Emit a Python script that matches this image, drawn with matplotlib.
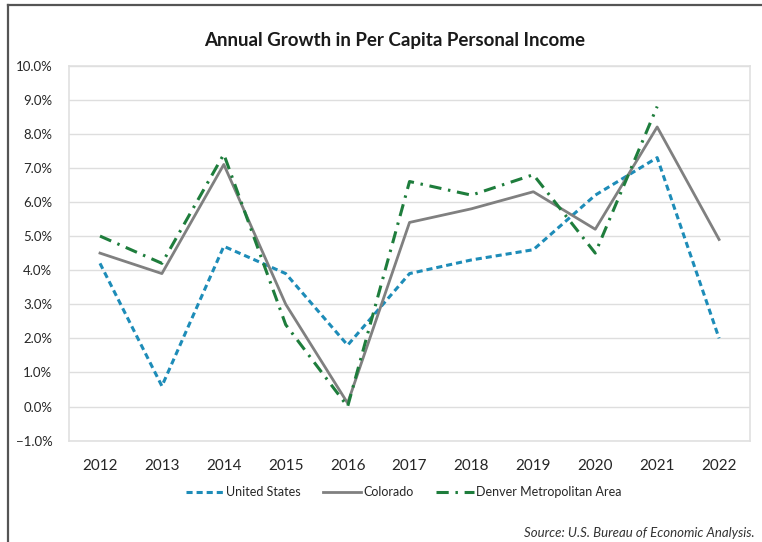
import numpy as np
import matplotlib
matplotlib.use("Agg")
from matplotlib import pyplot as plt
from matplotlib.lines import Line2D
from matplotlib.ticker import PercentFormatter

plt.rcParams['font.family'] = ['Lato', 'DejaVu Sans']

# data (annual % growth)
years = [2012, 2013, 2014, 2015, 2016, 2017, 2018, 2019, 2020, 2021, 2022]
us = [4.2, 0.6, 4.7, 3.9, 1.8, 3.9, 4.3, 4.6, 6.2, 7.3, 2.0]
colorado = [4.5, 3.9, 7.1, 3.0, 0.1, 5.4, 5.8, 6.3, 5.2, 8.2, 4.9]
denver = [5.0, 4.2, 7.4, 2.4, 0.0, 6.6, 6.2, 6.8, 4.5, 8.8, np.nan]

fig = plt.figure(figsize=(7.62, 5.42), dpi=100)
ax = fig.add_axes([0.0906, 0.187, 0.8937, 0.692])

x = np.arange(len(years))
ax.plot(x, us, color="#1d8cb8", lw=2.2, ls=(0, (2.0, 1.3)), label="United States", zorder=3)
ax.plot(x, colorado, color="#808080", lw=2.0, label="Colorado", zorder=3)
ax.plot(x, denver, color="#1e7d3c", lw=2.2, ls=(0, (4, 2.2, 0.8, 2.2)), label="Denver Metropolitan Area", zorder=3)

ax.set_xlim(-0.5, len(years) - 0.5)
ax.set_ylim(-1, 10)
ax.set_yticks(np.arange(-1, 10.5, 1))
ax.yaxis.set_major_formatter(PercentFormatter(decimals=1))
ax.set_xticks(x)
ax.set_xticklabels([str(y) for y in years])
ax.tick_params(length=0, labelsize=11, colors="#262626", pad=13)
ax.tick_params(axis="y", labelsize=9.5, pad=12)
ax.grid(axis="y", color="#dedede", lw=1)
ax.set_axisbelow(True)
for s in ax.spines.values():
    s.set_color("#e0e0e0")
    s.set_linewidth(1.2)

fig.text(0.518, 0.925, "Annual Growth in Per Capita Personal Income",
         ha="center", va="center", fontsize=13.5, fontweight="bold", color="#1a1a1a")

fig.legend(loc="center", bbox_to_anchor=(0.53, 0.092), ncol=3, frameon=False,
           fontsize=9, handlelength=3.0, handletextpad=0.2, columnspacing=1.8,
           labelcolor="#262626")

fig.text(0.99, 0.017, "Source: U.S. Bureau of Economic Analysis.", ha="right", va="center",
         fontsize=9.5, style="italic", color="#333333")

# outer frame (top and left edges show in the screenshot)
fig.add_artist(Line2D([0.011, 1.0], [0.991, 0.991], color="#555555", lw=1.6, transform=fig.transFigure))
fig.add_artist(Line2D([0.011, 0.011], [0.0, 0.991], color="#555555", lw=1.6, transform=fig.transFigure))

plt.savefig("out.png", dpi=100)
